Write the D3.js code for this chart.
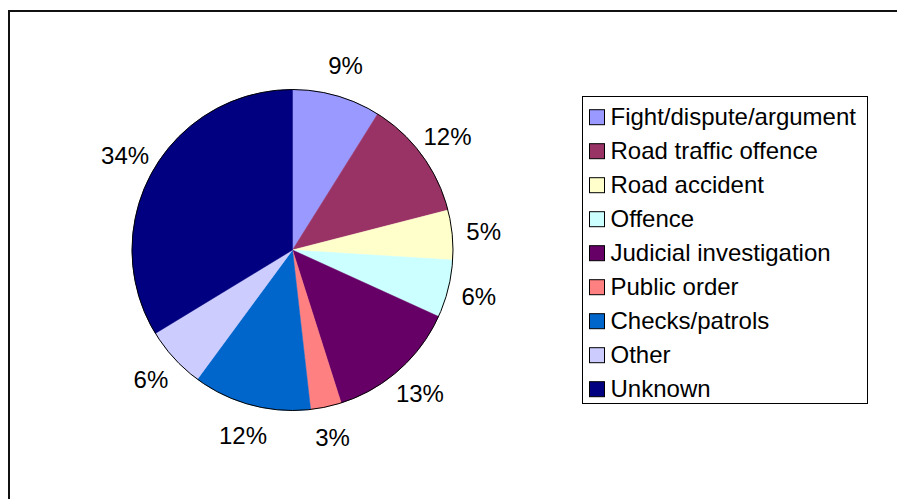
<!DOCTYPE html>
<html>
<head>
<meta charset="utf-8">
<script src="https://cdn.jsdelivr.net/npm/d3@7"></script>
<style>
    body { margin: 0; background: #fff; }
    svg { display: block; }
    text { font-family: "Liberation Sans", Arial, sans-serif; fill: #000; }
</style>
</head>
<body>
<script>
"use strict";

// share of calls by reason (percent)
var categories = ["Fight/dispute/argument", "Road traffic offence", "Road accident", "Offence",
    "Judicial investigation", "Public order", "Checks/patrols", "Other", "Unknown"];
var values = [8.9, 12.1, 5.0, 5.8, 13.3, 3.1, 11.9, 6.2, 33.7];
var colors = ["#9999FF", "#993366", "#FFFFCC", "#CCFFFF", "#660066", "#FF8080", "#0066CC", "#CCCCFF", "#000080"];

var width = 897;
var height = 499;
var cx = 292.5, cy = 250, radius = 160.5;
var labelRadius = 192;
var fontSize = 24;

var svg = d3.select("body").append("svg")
    .attr("width", width)
    .attr("height", height);

// chart frame (runs off the right / bottom of the picture)
svg.append("rect")
    .attr("x", 9)
    .attr("y", 11)
    .attr("width", 900)
    .attr("height", 500)
    .attr("fill", "none")
    .attr("stroke", "#111")
    .attr("stroke-width", 2);

var rows = categories.map(function(name, i) {
    return { name: name, value: values[i], color: colors[i] };
});

var pie = d3.pie().sort(null).value(function(d) { return d.value; });
var arc = d3.arc().innerRadius(0).outerRadius(radius);
var arcs = pie(rows);

var pieLayer = svg.append("g")
    .attr("transform", "translate(" + cx + "," + cy + ")");

pieLayer.selectAll("path")
    .data(arcs)
    .enter()
    .append("path")
    .attr("d", arc)
    .attr("fill", function(d) { return d.data.color; })
    .attr("stroke", function(d) { return d.data.color; })
    .attr("stroke-width", 0.5);

pieLayer.append("circle")
    .attr("r", radius)
    .attr("fill", "none")
    .attr("stroke", "#000")
    .attr("stroke-width", 1);

// percent labels outside the pie
pieLayer.selectAll("text.pct")
    .data(arcs)
    .enter()
    .append("text")
    .attr("class", "pct")
    .attr("text-anchor", "middle")
    .attr("font-size", fontSize)
    .attr("x", function(d) {
        var a = (d.startAngle + d.endAngle) / 2;
        return Math.sin(a) * labelRadius;
    })
    .attr("y", function(d) {
        var a = (d.startAngle + d.endAngle) / 2;
        return -Math.cos(a) * labelRadius + 8.5;
    })
    .text(function(d) { return Math.round(d.data.value) + "%"; });

// legend
var legend = svg.append("g");
legend.append("rect")
    .attr("x", 582.5)
    .attr("y", 96.5)
    .attr("width", 285)
    .attr("height", 307)
    .attr("fill", "#fff")
    .attr("stroke", "#000")
    .attr("stroke-width", 1);

var rowY = d3.scalePoint()
    .domain(categories)
    .range([117.2, 389.2]);

var item = legend.selectAll("g.item")
    .data(rows)
    .enter()
    .append("g")
    .attr("class", "item")
    .attr("transform", function(d) { return "translate(0," + rowY(d.name) + ")"; });

item.append("rect")
    .attr("x", 589.5)
    .attr("y", -7.5)
    .attr("width", 15)
    .attr("height", 15)
    .attr("fill", function(d) { return d.color; })
    .attr("stroke", "#000")
    .attr("stroke-width", 1);

item.append("text")
    .attr("x", 610.5)
    .attr("y", 8)
    .attr("font-size", fontSize)
    .text(function(d) { return d.name; });
</script>
</body>
</html>
